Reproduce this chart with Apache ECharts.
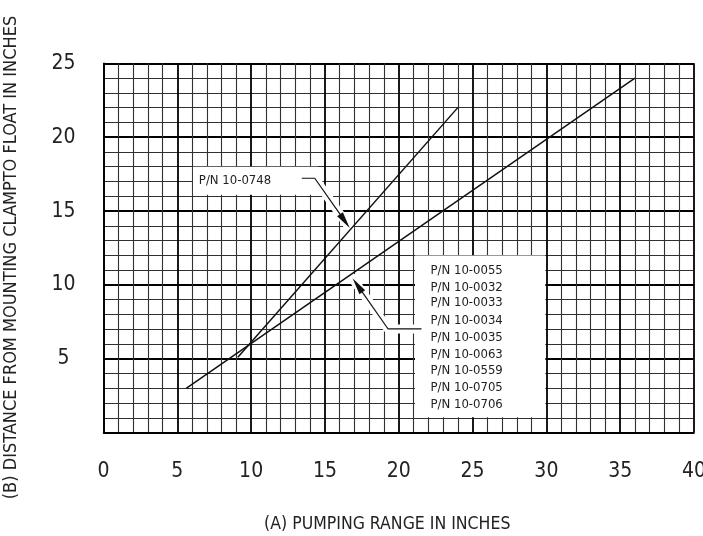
<!DOCTYPE html>
<html><head><meta charset="utf-8">
<script src="https://cdn.jsdelivr.net/npm/echarts@6/dist/echarts.min.js"></script>
<style>html,body{margin:0;padding:0;background:#fff}#c{width:703px;height:536px}</style>
</head><body><div id="c"></div>
<script>
// ---- data ----
const xTickLabels = ['0','5','10','15','20','25','30','35','40'];
const yTickLabels = ['','5','10','15','20','25'];
const lineA_x = [9.1, 24];   // P/N 10-0748
const lineA_y = [5.1, 22];
const lineB_x = [5.6, 36];   // P/N 10-0055 group
const lineB_y = [3, 24];
const labelA = ['P/N 10-0748'];
const labelB = ['P/N 10-0055','P/N 10-0032','P/N 10-0033','P/N 10-0034','P/N 10-0035',
                'P/N 10-0063','P/N 10-0559','P/N 10-0705','P/N 10-0706'];

// ---- annotation layout (data units) ----
const boxA = {x0:6.06, x1:14.52, y0:16.1, y1:18.0, tx:6.46, ty:[17.07]};
const leaderA = [[13.43,17.22],[14.31,17.22],[16.68,13.85]];
const boxB = {x0:21.1, x1:29.93, y0:1.05, y1:12.0, tx:22.15,
              ty:[10.97,9.82,8.80,7.58,6.41,5.26,4.20,3.07,1.92]};
const leaderB = [[21.54,7.02],[19.28,7.02],[16.87,10.45]];

const F = "'Liberation Sans Narrow','DejaVu Sans Condensed','Liberation Sans',sans-serif";
const zip = (a,b)=>a.map((v,i)=>[v,b[i]]);

const chart = echarts.init(document.getElementById('c'), null, {renderer:'canvas'});
const axisCommon = {
  type:'value', nameLocation:'middle',
  axisLine:{show:true, onZero:false, lineStyle:{color:'#000', width:1.6}},
  axisTick:{show:false},
  splitLine:{show:true, lineStyle:{color:'#000', width:1.8}},
  minorTick:{show:false, splitNumber:5},
  minorSplitLine:{show:true, lineStyle:{color:'#303030', width:1.1}}
};
chart.setOption({
  animation:false,
  backgroundColor:'#fff',
  grid:{left:103.5, right:9, top:63.3, bottom:103.3, containLabel:false, outerBoundsMode:'none'},
  xAxis:Object.assign({}, axisCommon, {
    min:0, max:40, interval:5,
    name:'(A) PUMPING RANGE IN INCHES', nameGap:83,
    nameTextStyle:{fontFamily:F, fontSize:17.5, color:'#222', padding:[0,23,0,0]},
    axisLabel:{fontFamily:F, fontSize:21, color:'#222', margin:28,
      formatter:v=>xTickLabels[Math.round(v/5)]}
  }),
  yAxis:Object.assign({}, axisCommon, {
    min:0, max:25, interval:5,
    name:'(B) DISTANCE FROM MOUNTING CLAMPTO FLOAT IN INCHES', nameGap:83,
    nameTextStyle:{fontFamily:F, fontSize:18, color:'#222', padding:[0,19,0,0]},
    axisLabel:{fontFamily:F, fontSize:21, color:'#222', margin:40, align:'center',
      formatter:v=>yTickLabels[Math.round(v/5)]}
  }),
  series:[
    {type:'line', data:zip(lineA_x,lineA_y), symbol:'none', z:20,
     lineStyle:{color:'#111', width:1.5}},
    {type:'line', data:zip(lineB_x,lineB_y), symbol:'none', z:20,
     lineStyle:{color:'#111', width:1.5}}
  ]
});

function P(x,y){return chart.convertToPixel({gridIndex:0},[x,y]);}
const g = [];
function addBox(b, labels){
  const a = P(b.x0,b.y1), c = P(b.x1,b.y0);
  g.push({type:'rect', z:10, silent:true,
    shape:{x:a[0], y:a[1], width:c[0]-a[0], height:c[1]-a[1]},
    style:{fill:'#fff'}});
  labels.forEach((t,i)=>{
    const p = P(b.tx, b.ty[i]);
    g.push({type:'text', z:13, silent:true, x:p[0], y:p[1],
      style:{text:t, fill:'#222', font:"13px "+F, verticalAlign:'middle', align:'left'}});
  });
}
function addLeader(pts){
  const px = pts.map(p=>P(p[0],p[1]));
  g.push({type:'polyline', z:10, silent:true, shape:{points:px},
    style:{stroke:'#fff', lineWidth:9, fill:null, lineJoin:'round', lineCap:'round'}});
  const tip = px[px.length-1], prev = px[px.length-2];
  let dx = tip[0]-prev[0], dy = tip[1]-prev[1];
  const len = Math.hypot(dx,dy); dx/=len; dy/=len;
  const L = 17, W = 7;
  const bx = tip[0]-dx*L, by = tip[1]-dy*L;
  const nx = -dy, ny = dx;
  const linePts = px.slice(0,-1).concat([[tip[0]-dx*L*0.8, tip[1]-dy*L*0.8]]);
  g.push({type:'polyline', z:12, silent:true, shape:{points:linePts},
    style:{stroke:'#111', lineWidth:1.2, fill:null}});
  g.push({type:'polygon', z:12, silent:true,
    shape:{points:[tip,[bx+nx*W/2, by+ny*W/2],[bx-nx*W/2, by-ny*W/2]]},
    style:{fill:'#111'}});
}
addBox(boxA, labelA);
addBox(boxB, labelB);
addLeader(leaderA);
addLeader(leaderB);
chart.setOption({graphic:{elements:g}});
</script>
</body></html>
